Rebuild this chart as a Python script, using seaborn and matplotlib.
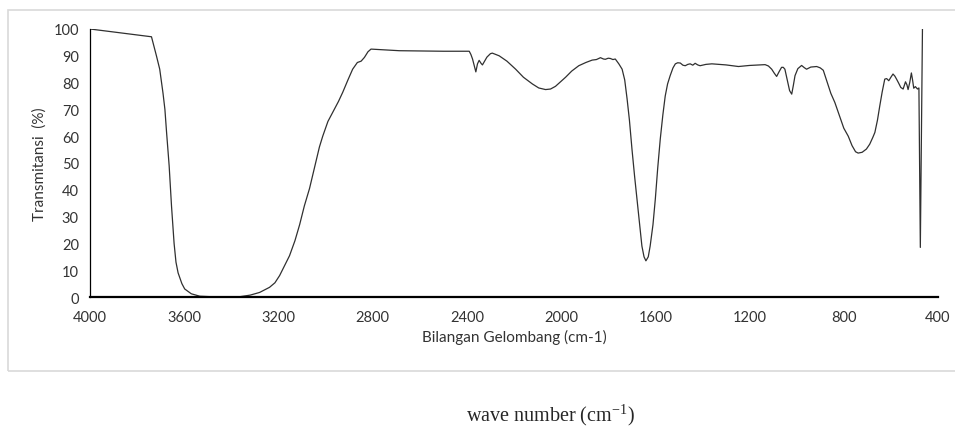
import seaborn as sns
import matplotlib.pyplot as plt
import matplotlib.patches as mpatches
import pandas as pd

# FTIR spectrum (wave number, transmittance %)
wave_number = [
    4000, 3739, 3718, 3704, 3690, 3682, 3675, 3664, 3654, 3643, 3635, 3626, 3610, 3598,
    3570, 3534, 3460, 3400, 3365, 3320, 3280, 3238, 3215, 3195, 3175, 3153, 3130, 3110,
    3090, 3068, 3045, 3026, 3012, 2990, 2969, 2945, 2927, 2905, 2885, 2865, 2849, 2835,
    2820, 2807, 2750, 2687, 2500, 2390, 2383, 2376, 2368, 2362, 2355, 2348, 2340, 2334,
    2315, 2300, 2292, 2263, 2230, 2193, 2160, 2122, 2095, 2066, 2045, 2024, 2000, 1981,
    1955, 1925, 1895, 1868, 1850, 1833, 1820, 1812, 1800, 1791, 1780, 1770, 1755, 1741,
    1730, 1720, 1710, 1699, 1688, 1678, 1667, 1657, 1648, 1640, 1630, 1622, 1610, 1600,
    1590, 1579, 1568, 1558, 1548, 1537, 1525, 1515, 1505, 1494, 1483, 1473, 1462, 1452,
    1441, 1431, 1420, 1410, 1385, 1360, 1300, 1247, 1200, 1134, 1120, 1106, 1095, 1085,
    1075, 1064, 1057, 1050, 1040, 1030, 1021, 1014, 1007, 995, 979, 968, 958, 940,
    915, 900, 887, 870, 855, 838, 820, 800, 781, 765, 750, 739, 722, 704,
    690, 677, 668, 657, 647, 637, 626, 618, 609, 600, 591, 583, 576, 567,
    558, 548, 538, 532, 527, 520, 513, 508, 503, 496, 487, 481, 475, 466,
]
transmittance = [
    100, 97.1, 90, 85, 76, 70, 61.5, 49, 34, 20, 13, 9, 5, 3,
    1.2, 0.3, 0, 0, 0.1, 0.7, 1.7, 3.6, 5.3, 8, 11.5, 15.4, 21, 27,
    34, 40.5, 49, 56, 60, 65.5, 69, 73, 76.4, 81, 85, 87.5, 88, 89.4,
    91.5, 92.5, 92.2, 91.9, 91.7, 91.7, 90.5, 88.8, 86, 84, 87, 88.3, 87.2, 86.6,
    89.5, 90.8, 91, 90, 88, 85, 82, 79.5, 78, 77.4, 77.6, 78.6, 80.5, 82,
    84.3, 86.3, 87.5, 88.4, 88.6, 89.3, 88.8, 88.7, 89.1, 89, 88.6, 88.8, 87, 85,
    81, 74, 66, 55, 45, 36.6, 27, 19, 15, 13.5, 15, 19, 27, 36.6,
    48, 59, 68, 75, 79.5, 82.6, 85.5, 87, 87.4, 87.3, 86.5, 86.3, 86.8, 87,
    86.5, 87.2, 86.6, 86.3, 86.8, 87, 86.6, 86, 86.4, 86.7, 86.2, 85, 83.5, 82.3,
    84, 85.7, 85.7, 85, 81, 77, 75.7, 79, 82.6, 85.2, 86.4, 85.6, 85, 85.8,
    86, 85.5, 84.6, 80, 76, 72.6, 68, 63, 60, 56.5, 54.2, 53.7, 54, 55.2,
    57, 59.5, 61.4, 66, 71.4, 76.5, 81.3, 81.5, 80.7, 82, 83.2, 82.4, 81.3, 79.8,
    78.2, 77.6, 80.3, 79.2, 77.4, 80, 83.6, 81, 77.9, 78.5, 77.6, 78, 18.5, 100,
]
x_ticks = [4000, 3600, 3200, 2800, 2400, 2000, 1600, 1200, 800, 400]
y_ticks = [0, 10, 20, 30, 40, 50, 60, 70, 80, 90, 100]

df = pd.DataFrame({"wn": wave_number, "T": transmittance})

sns.set_style("white")
plt.rcParams["font.family"] = ["Lato", "DejaVu Sans"]
plt.rcParams["mathtext.fontset"] = "custom"
plt.rcParams["mathtext.rm"] = "Liberation Serif"

fig = plt.figure(figsize=(9.55, 4.27), dpi=100)
# light grey chart frame
fig.patches.append(mpatches.Rectangle((8 / 955, 1 - 372 / 427), 1.0, (372 - 11) / 427,
                                      transform=fig.transFigure, fill=False,
                                      edgecolor="#d9d9d9", linewidth=1.2))
ax = fig.add_axes([90 / 955, 1 - 298 / 427, (938 - 90) / 955, (298 - 30) / 427])

sns.lineplot(data=df, x="wn", y="T", sort=False, estimator=None,
             color="#303030", linewidth=0.9, ax=ax)

ax.set_xlim(4000, 400)
ax.set_ylim(0, 100)
ax.set_xticks(x_ticks)
ax.set_yticks(y_ticks)
ax.tick_params(length=0, labelsize=10.5, colors="#333333")
ax.tick_params(axis="x", pad=9)
ax.tick_params(axis="y", pad=8)
ax.set_xlabel("Bilangan Gelombang (cm-1)", fontsize=11, color="#333333", labelpad=4)
ax.set_ylabel("Transmitansi  (%)", fontsize=11, color="#333333", labelpad=5)

for side in ["top", "right"]:
    ax.spines[side].set_visible(False)
ax.spines["bottom"].set_color("black")
ax.spines["bottom"].set_linewidth(1.6)
ax.spines["left"].set_color("black")
ax.spines["left"].set_linewidth(0.9)

fig.text(550 / 955, 1 - 415 / 427, "wave number (cm$^{-1}$)", ha="center", va="center",
         fontsize=14.5, family=["Liberation Serif", "DejaVu Serif"])

fig.savefig("out.png", dpi=100, facecolor="white")
